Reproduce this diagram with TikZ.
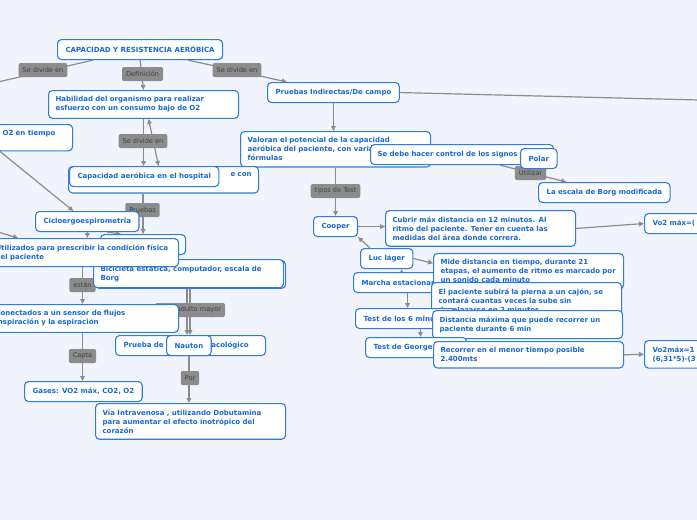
\documentclass[tikz,border=0pt]{standalone}
\usepackage{fontspec}
\setmainfont{DejaVu Sans}
\usepackage{tikz}
\usetikzlibrary{positioning, calc}
\usetikzlibrary{arrows.meta}
\definecolor{fondo}{RGB}{241,244,253}
\definecolor{borde}{RGB}{45,125,225}
\definecolor{testo}{RGB}{25,105,210}
\definecolor{etich}{RGB}{140,140,140}
\definecolor{freccia}{RGB}{140,140,140}
\pgfdeclarelayer{sfondo}
\pgfdeclarelayer{linee}
\pgfsetlayers{sfondo,linee,main}

\begin{document}
\begin{tikzpicture}[x=1pt, y=-1pt, >={Triangle[length=5pt,width=4.6pt]},
  caja/.style={draw=borde, line width=1.1pt, rounded corners=4pt, fill=white, text=testo,
    font=\fontsize{7}{9}\selectfont\bfseries, inner xsep=8pt, inner ysep=6pt,
    minimum height=20pt, anchor=north west},
  larga/.style={caja, text width=176pt, inner xsep=7pt, align=left},
  etiq/.style={fill=etich, rounded corners=2pt, text=black!75,
    font=\fontsize{6.6}{8}\selectfont, inner xsep=4pt, inner ysep=2pt, minimum height=14pt},
  flecha/.style={->, draw=freccia, line width=1.2pt}]

\useasboundingbox (0,0) rectangle (697,520);
\begin{pgfonlayer}{sfondo}
  \fill[fondo] (0,0) rectangle (697,520);
\end{pgfonlayer}

% --- Etiquetas grises ---
\foreach \n/\p/\t in {e1/{43,70}/Se divide en, e2/{142.5,74}/Definición,
  e3/{237,70}/Se divide en, e4/{143,141}/Se divide en, e5/{142.5,210}/Pruebas,
  e6/{82.5,285}/están, e8/{82.5,356}/Capta, e9/{190,378}/Por,
  e10/{335.5,191}/tipos de Test, e11/{530.5,173}/Utilizar}{
  \node[etiq] (\n) at (\p) {\t};
}
\node[etiq, text width=62pt, align=right] (e7) at (190,310) {adulto mayor};

% --- Rama izquierda ---
\node[caja] (cap) at (57,39) {CAPACIDAD Y RESISTENCIA AERÓBICA};
\node[larga] (hab) at (48,90) {Habilidad del organismo para realizar\\esfuerzo con un consumo bajo de O2};
\node[caja, text width=64pt, inner xsep=6pt, align=left] (o2) at (-4,124) {O2 en tiempo\\\mbox{}};
\node[caja] (pind) at (267,82) {Pruebas Indirectas/De campo};
\node[larga] (valoran) at (240,131) {Valoran el potencial de la capacidad\\aeróbica del paciente, con varias\\fórmulas};
\node[caja, text width=169pt, inner xsep=7pt, align=left] (signos) at (370,144) {Se debe hacer control de los signos};
\node[caja] (polar) at (520,148) {Polar};
\node[caja] (borg) at (538,182) {La escala de Borg modificada};
\node[larga] (gasto) at (68,166) {\hfill e con\\mínimo gasto de O2};
\node[caja] (hosp) at (69,166) {Capacidad aeróbica en el hospital};
\node[caja] (ciclo) at (35,211) {Cicloergoespirometria};
\node[caja, minimum width=85pt] (oculto) at (100,234) {};
\node[larga] (bicib) at (95,260) {\phantom{Bicicleta}\\\phantom{Borg}};
\node[larga] (bici) at (93,259) {Bicicleta estática, computador, escala de\\Borg};
\node[larga] (util) at (-12,238) {Utilizados para prescribir la condición física\\del paciente};
\node[larga] (conect) at (-12,304) {Conectados a un sensor de flujos\\inspiración y la espiración};
\node[caja] (gases) at (24,381) {Gases: VO2 máx, CO2, O2};
\node[caja, text width=134pt, align=left] (prueba) at (115,335) {Prueba de estrés farmacológico};
\node[caja] (nauton) at (166,335) {Nauton};
\node[larga] (via) at (95,403) {Vía Intravenosa , utilizando Dobutamina\\para aumentar el efecto inotrópico del\\corazón};

% --- Tipos de test ---
\node[caja] (cooper) at (313,216) {Cooper};
\node[larga] (cubrir) at (385,210) {Cubrir máx distancia en 12 minutos. Al\\ritmo del paciente. Tener en cuenta las\\medidas del área donde correrá.};
\node[caja, text width=70pt, align=left] (vo2a) at (644,213) {Vo2 máx=(};
\node[caja] (luc) at (360,248) {Luc láger};
\node[caja] (marcha) at (353,272) {Marcha estacionaria};
\node[larga] (mide) at (433,253) {Mide distancia en tiempo, durante 21\\etapas, el aumento de ritmo es marcado por\\un sonido cada minuto};
\node[larga] (cajon) at (431,282) {El paciente subirá la pierna a un cajón, se\\contará cuantas veces la sube sin\\desplazarse en 2 minutos};
\node[caja] (seis) at (355,308) {Test de los 6 minutos};
\node[larga] (dist) at (432,310) {Distancia máxima que puede recorrer un\\paciente durante 6 min};
\node[caja, text width=85pt, align=left] (george) at (365,337) {Test de George};
\node[larga] (recorrer) at (433,341) {Recorrer en el menor tiempo posible\\2.400mts};
\node[caja, text width=70pt, align=left] (vo2b) at (644,340) {Vo2máx=1\\(6,31*5)-(3};

% --- Conectores ---
\coordinate (fueraA) at (-2,82);
\coordinate (fueraB) at (-2,232);
\coordinate (fueraC) at (699,100);
\begin{pgfonlayer}{linee}
  \draw[flecha, -] ([xshift=-47pt]cap.south) -- (fueraA);
  \draw[flecha] (cap.south) -- (hab.north);
  \draw[flecha] ([xshift=48pt]cap.south) -- ([xshift=20pt]pind.north west);
  \draw[flecha] (hab.south) -- (hab.south |- gasto.north);
  \draw[flecha, <->] ([xshift=5pt]hab.south) -- ([xshift=-5pt]gasto.north);
  \draw[flecha] (oculto.north |- gasto.south) -- (oculto.north);
  \draw[flecha] ([xshift=4pt]o2.south west) -- ([xshift=-14pt]ciclo.north);
  \draw[flecha] (ciclo.south) -- (ciclo.south |- util.north);
  \draw[flecha] ([xshift=20pt]ciclo.south) -- ([xshift=-22pt]oculto.north);
  \draw[flecha] (fueraB) -- ([xshift=30pt]util.north west);
  \draw[flecha] (util.south -| e6) -- (conect.north -| e6);
  \draw[flecha] (conect.south -| e8) -- (gases.north -| e8);
  \draw[flecha] ([xshift=-1.5pt]bici.south) -- ([xshift=-1.5pt]bici.south |- prueba.north);
  \draw[flecha] ([xshift=1.5pt]bici.south) -- ([xshift=1.5pt]bici.south |- prueba.north);
  \draw[flecha] (nauton.south) -- (nauton.south |- via.north);
  \draw[flecha, -] (pind.east) -- (fueraC);
  \draw[flecha] (pind.south) -- (pind.south |- valoran.north);
  \draw[flecha] (valoran.south -| e10) -- (cooper.north -| e10);
  \draw[flecha] ([xshift=38pt]signos.south) -- ([xshift=-38pt]borg.north);
  \draw[flecha] (cooper.east) -- (cubrir.west |- cooper.east);
  \draw[flecha] (cubrir.east) -- (vo2a.west);
  \draw[flecha] ([xshift=10pt]luc.north west) -- (cooper.south east);
  \draw[flecha] (luc.east) -- ([yshift=8pt]mide.west);
  \draw[flecha] (marcha.north) -- (marcha.north |- luc.south);
  \draw[flecha] ([xshift=6pt]marcha.south) -- ([xshift=6pt]marcha.south |- seis.north);
  \draw[flecha] ([xshift=15pt]seis.south) -- ([xshift=15pt]seis.south |- george.north);
  \draw[flecha] (recorrer.east) -- (vo2b.west);
\end{pgfonlayer}

\end{tikzpicture}
\end{document}
